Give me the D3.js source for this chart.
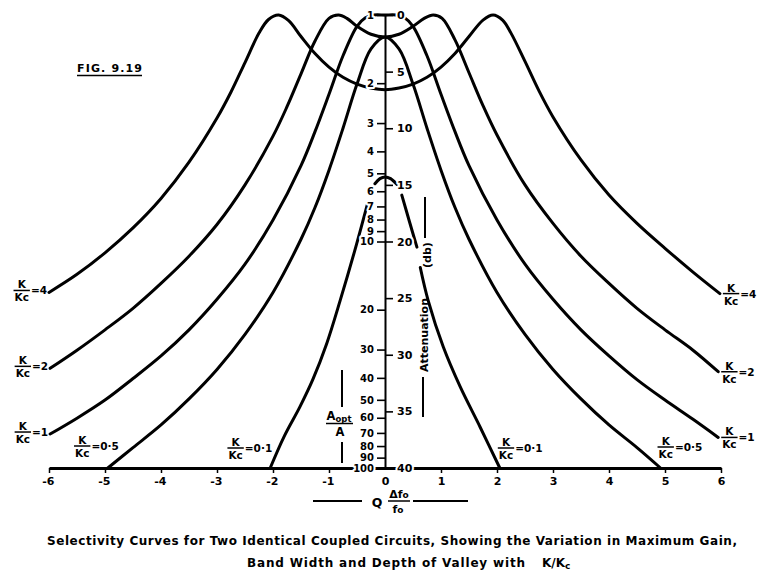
<!DOCTYPE html>
<html><head><meta charset="utf-8">
<script src="https://cdn.jsdelivr.net/npm/d3@7"></script>
<style>
body{margin:0;background:#fff;}
svg{display:block;background:#fff;}
text{font-family:"DejaVu Sans",sans-serif;font-weight:bold;fill:#000;}
</style></head><body>
<svg id="chart" width="772" height="588"></svg>
<script>
// ---- data (x = Q·Δfo/fo, y = attenuation in db) ----
const xTicks = [-6,-5,-4,-3,-2,-1,0,1,2,3,4,5,6];
const dbTicks = [0,5,10,15,20,25,30,35,40];
const ratioTicks = [1,2,3,4,5,6,7,8,9,10,20,30,40,50,60,70,80,90,100];

const k4 = [[-6.0,24.5],[-5.5,22.9],[-5.0,21.0],[-4.5,18.8],[-4.0,16.2],[-3.5,13.0],[-3.0,9.1],[-2.75,6.8],[-2.5,4.2],[-2.25,1.6],[-2.08,0.4],[-1.9,0],[-1.72,0.5],[-1.5,1.9],[-1.25,3.4],[-1.0,4.6],[-0.75,5.5],[-0.5,6.1],[-0.25,6.45],[0,6.6],[0.25,6.45],[0.5,6.1],[0.75,5.5],[1.0,4.6],[1.25,3.4],[1.5,1.9],[1.75,0.45],[1.93,0],[2.1,0.45],[2.25,1.6],[2.5,4.1],[2.75,6.7],[3.0,9.0],[3.5,12.8],[4.0,15.9],[4.5,18.4],[5.0,20.6],[5.5,22.7],[5.98,24.6]];
const k2 = [[-5.98,31.2],[-5.5,29.6],[-5.0,27.8],[-4.5,25.9],[-4.0,23.7],[-3.5,21.3],[-3.0,18.5],[-2.5,15.0],[-2.0,10.7],[-1.75,8.1],[-1.5,5.2],[-1.25,2.3],[-1.0,0.3],[-0.83,0],[-0.68,0.3],[-0.5,1.0],[-0.25,1.7],[0,1.94],[0.25,1.7],[0.5,1.0],[0.7,0.3],[0.86,0],[1.02,0.3],[1.25,2.2],[1.5,5.1],[1.75,8.0],[2.0,10.6],[2.5,15.0],[3.0,18.4],[3.5,21.3],[4.0,23.7],[4.5,25.9],[5.0,27.8],[5.5,29.6],[5.95,31.5]];
const k1 = [[-5.98,37.0],[-5.5,35.6],[-5.0,34.0],[-4.5,32.1],[-4.0,30.1],[-3.5,27.8],[-3.0,25.1],[-2.5,22.0],[-2.0,18.1],[-1.5,13.3],[-1.25,10.3],[-1.0,7.0],[-0.75,3.6],[-0.5,1.0],[-0.35,0.25],[-0.2,0],[0,0],[0.2,0],[0.35,0.25],[0.5,1.0],[0.75,3.6],[1.0,7.0],[1.25,10.3],[1.5,13.3],[2.0,18.1],[2.5,22.0],[3.0,25.1],[3.5,27.8],[4.0,30.1],[4.5,32.2],[5.0,34.0],[5.5,35.7],[5.95,37.3]];
const k05 = [[-4.95,40],[-4.5,38.2],[-4.0,36.2],[-3.5,33.9],[-3.0,31.3],[-2.5,28.2],[-2.0,24.5],[-1.5,19.8],[-1.25,17.0],[-1.0,13.7],[-0.75,10.0],[-0.5,6.1],[-0.25,3.0],[0,1.94],[0.25,3.0],[0.5,6.1],[0.75,10.0],[1.0,13.7],[1.25,17.0],[1.5,19.8],[2.0,24.5],[2.5,28.2],[3.0,31.3],[3.5,33.9],[4.0,36.2],[4.5,38.2],[4.92,40]];
// null = break in the drawn line (covered by lettering in the original)
const k01 = [[-2.05,40],[-1.8,37.2],[-1.52,34.6],[-1.29,32.2],[-1.04,29.0],[-0.8,25.2],[-0.54,20.8],[-0.32,16.8],null,[-0.18,14.9],[-0.09,14.45],[0,14.3],[0.1,14.45],[0.21,14.95],null,[0.3,15.9],[0.44,18.3],[0.57,20.5],null,[0.63,22.3],[0.77,25.2],[1.04,29.3],[1.34,32.8],[1.7,36.4],[2.05,40]];

const curveValues = ["4","2","1","0·5","0·1"];

// ---- scales ----
const svg = d3.select("#chart");
const x = d3.scaleLinear().domain([-6,6]).range([49,721]);
const yDb = d3.scaleLinear().domain([0,40]).range([15,468]);
const yRatio = d3.scaleLog().domain([1,100]).range([15,468]);
const cx = x(0);

// ---- curves ----
const line = d3.line().defined(d => d !== null)
  .x(d => x(d[0])).y(d => yDb(d[1]))
  .curve(d3.curveCatmullRom.alpha(0.5));
const gCurves = svg.append("g").attr("fill","none").attr("stroke","#000")
  .attr("stroke-width",3).attr("stroke-linecap","round").attr("stroke-linejoin","round");
[k4,k2,k1,k05,k01].forEach(c => gCurves.append("path").attr("d", line(c)));

// ---- bottom axis ----
const gx = svg.append("g").attr("transform",`translate(0,${yDb(40)})`)
  .call(d3.axisBottom(x).tickValues(xTicks).tickSize(5).tickSizeOuter(0).tickPadding(4)
        .tickFormat(d => d < 0 ? "-" + Math.abs(d) : d));
gx.select(".domain").attr("stroke-width",3);
gx.selectAll(".tick line").attr("stroke-width",1.5);
gx.selectAll(".tick text").attr("font-size",11)
  .filter(d => d < 0).attr("text-anchor","end").attr("dx",5);
gx.selectAll(".tick").filter(d => d === 0).select("line").remove();

// ---- centre axis: ratio (left) and db (right) ----
const halo = sel => sel.attr("stroke","#fff").attr("stroke-width",4)
  .attr("paint-order","stroke").attr("stroke-linejoin","round");
const gl = svg.append("g").attr("transform",`translate(${cx},0)`)
  .call(d3.axisLeft(yRatio).tickValues(ratioTicks).tickFormat(d => d).tickSize(8).tickSizeOuter(0).tickPadding(3));
gl.select(".domain").attr("stroke-width",2);
gl.selectAll(".tick line").attr("stroke-width",1.6);
gl.selectAll(".tick text").attr("font-size",10).call(halo);
const gr = svg.append("g").attr("transform",`translate(${cx},0)`)
  .call(d3.axisRight(yDb).tickValues(dbTicks).tickSize(8).tickSizeOuter(0).tickPadding(4));
gr.select(".domain").remove();
gr.selectAll(".tick line").attr("stroke-width",1.6);
gr.selectAll(".tick text").attr("font-size",11).call(halo);

// ---- K/Kc labels ----
function fracLabel(px, py, val, anchor) {
  const g = svg.append("g");
  const fs = 10.5;
  const den = g.append("text").attr("font-size",fs).attr("y",11).attr("text-anchor","middle").text("Kc");
  const bw = den.node().getComputedTextLength() + 2;
  den.attr("x", bw/2);
  g.append("text").attr("font-size",fs).attr("x",bw/2).attr("y",-2).attr("text-anchor","middle").text("K");
  g.append("line").attr("x1",0).attr("x2",bw).attr("stroke","#000").attr("stroke-width",1.5);
  const eq = g.append("text").attr("font-size",fs).attr("x",bw+1).attr("y",4).text("=" + val);
  const tw = bw + 1 + eq.node().getComputedTextLength();
  g.attr("transform",`translate(${anchor === "end" ? px - tw : px},${py})`);
}
[k4,k2,k1].forEach((c,i) => {
  const f = c[0], l = c[c.length-1];
  fracLabel(x(f[0]) - 2, yDb(f[1]) - 2, curveValues[i], "end");
  fracLabel(x(l[0]) + 3, yDb(l[1]), curveValues[i], "start");
});
fracLabel(x(k05[0][0]) + 11, yDb(40) - 22, curveValues[3], "end");
fracLabel(x(k05[k05.length-1][0]) - 3, yDb(40) - 21, curveValues[3], "start");
fracLabel(x(k01[0][0]) + 2, yDb(40) - 20, curveValues[4], "end");
fracLabel(x(k01[k01.length-1][0]) - 2, yDb(40) - 20, curveValues[4], "start");

// ---- axis titles ----
const lead = (x1,y1,x2,y2) => svg.append("line").attr("x1",x1).attr("y1",y1).attr("x2",x2).attr("y2",y2)
  .attr("stroke","#000").attr("stroke-width",2);
// Attenuation (db)
lead(425,197,425,238); lead(423,377,423,417);
svg.append("text").attr("font-size",11).attr("text-anchor","middle")
  .attr("transform","translate(428,335) rotate(-90)").text("Attenuation");
svg.append("text").attr("font-size",11).attr("text-anchor","middle")
  .attr("transform","translate(431,255) rotate(-90)").text("(db)");
// Aopt / A
lead(342,370,342,407); lead(342,442,342,463);
const an = svg.append("text").attr("font-size",11.5).attr("text-anchor","middle").attr("x",339).attr("y",420);
an.append("tspan").text("A");
an.append("tspan").attr("font-size",8.5).attr("dy",2).text("opt");
svg.append("line").attr("x1",326).attr("x2",353).attr("y1",423.5).attr("y2",423.5).attr("stroke","#000").attr("stroke-width",1.5);
svg.append("text").attr("font-size",11.5).attr("text-anchor","middle").attr("x",340).attr("y",436).text("A");
// Q Δfo / fo
lead(313,501,362,501); lead(413,501,468,501);
svg.append("text").attr("font-size",12.5).attr("text-anchor","middle").attr("x",377).attr("y",507).text("Q");
const nf = svg.append("text").attr("font-size",11).attr("text-anchor","middle").attr("x",399).attr("y",498);
nf.append("tspan").text("Δf"); nf.append("tspan").attr("font-size",9).text("o");
svg.append("line").attr("x1",388).attr("x2",410).attr("y1",501).attr("y2",501).attr("stroke","#000").attr("stroke-width",1.5);
const df = svg.append("text").attr("font-size",11).attr("text-anchor","middle").attr("x",398).attr("y",513);
df.append("tspan").text("f"); df.append("tspan").attr("font-size",9).text("o");

// ---- figure number ----
svg.append("text").attr("font-size",11).attr("x",77).attr("y",72)
  .attr("textLength",65).attr("lengthAdjust","spacing").text("FIG. 9.19");
svg.append("line").attr("x1",77).attr("x2",142).attr("y1",75.5).attr("y2",75.5).attr("stroke","#000").attr("stroke-width",1.5);

// ---- caption ----
svg.append("text").attr("font-size",12).attr("x",47).attr("y",545)
  .attr("textLength",690).attr("lengthAdjust","spacing")
  .text("Selectivity Curves for Two Identical Coupled Circuits, Showing the Variation in Maximum Gain,");
svg.append("text").attr("font-size",12).attr("x",247).attr("y",567)
  .attr("textLength",278).attr("lengthAdjust","spacing")
  .text("Band Width and Depth of Valley with");
const kk = svg.append("text").attr("font-size",12).attr("x",542).attr("y",567);
kk.append("tspan").text("K/K");
kk.append("tspan").attr("font-size",9).attr("dy",2).text("c");
</script>
</body></html>
